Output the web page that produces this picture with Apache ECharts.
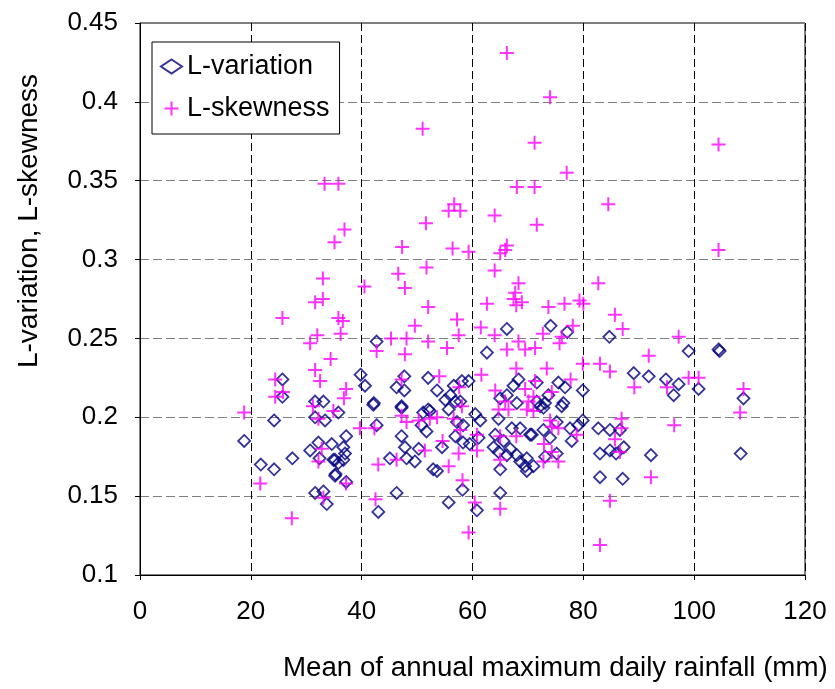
<!DOCTYPE html>
<html>
<head>
<meta charset="utf-8">
<script src="https://cdn.jsdelivr.net/npm/echarts/dist/echarts.min.js"></script>
<style>
  html, body { margin: 0; padding: 0; background: #ffffff; }
  #chart { width: 835px; height: 689px; }
</style>
</head>
<body>
<div id="chart"></div>
<script>
// Mean of annual maximum daily rainfall (mm) vs. L-moment ratios per station
const seriesNames = ['L-variation', 'L-skewness'];

const lVariationPoints = [
  [25.7,0.224],[25.7,0.213],[31.6,0.210],[33.1,0.210],
  [42.7,0.248],[39.8,0.227],[40.6,0.220],[47.7,0.226],[46.3,0.219],[47.7,0.217],[52.0,0.225],[42.2,0.209],[47.2,0.207],[52.0,0.205],
  [66.2,0.256],[62.6,0.241],[59.3,0.223],[58.1,0.223],[56.6,0.220],[53.6,0.217],[56.0,0.214],[55.1,0.211],[56.9,0.210],[57.8,0.210],
  [68.3,0.224],[67.4,0.220],[66.2,0.214],[65.0,0.212],[68.0,0.209],
  [74.1,0.258],[77.1,0.254],[84.7,0.251],[89.1,0.228],[71.6,0.222],[75.5,0.222],[76.7,0.219],[79.9,0.217],[73.7,0.214],[71.6,0.210],
  [76.4,0.209],[73.1,0.209],[72.2,0.207],
  [99.0,0.242],[104.4,0.243],[104.6,0.242],[91.8,0.226],[94.9,0.224],[97.2,0.221],[96.3,0.214],[100.8,0.218],[108.9,0.212],
  [18.8,0.185],[24.2,0.198],[21.8,0.170],[24.2,0.167],[27.5,0.174],[31.6,0.200],[33.4,0.198],[32.2,0.184],[30.7,0.179],[34.6,0.183],
  [32.4,0.174],[34.9,0.173],[35.2,0.163],[31.6,0.152],[33.1,0.153],[33.7,0.145],
  [42.1,0.208],[35.8,0.203],[42.7,0.195],[37.2,0.188],[36.7,0.181],[37.0,0.177],[35.2,0.173],[36.7,0.173],[35.8,0.171],[35.3,0.164],
  [37.2,0.159],[43.0,0.140],[46.3,0.152],[47.2,0.188],[47.8,0.181],[45.1,0.174],[48.1,0.174],[49.6,0.172],[50.3,0.180],[47.2,0.206],
  [51.1,0.203],[52.3,0.204],[50.8,0.195],[51.7,0.191],[52.9,0.167],
  [55.7,0.205],[60.5,0.202],[61.4,0.198],[57.2,0.197],[58.3,0.195],[56.9,0.188],[58.3,0.184],[59.5,0.183],[54.5,0.181],[61.1,0.187],
  [53.6,0.166],[58.2,0.154],[55.7,0.146],[60.8,0.141],[64.7,0.199],[67.1,0.193],[68.6,0.193],[70.4,0.189],[64.1,0.189],[65.6,0.185],
  [63.8,0.181],[64.7,0.178],[66.8,0.180],[68.0,0.176],[66.2,0.176],[69.8,0.174],[68.6,0.172],[69.5,0.169],[69.8,0.166],[65.0,0.167],
  [65.0,0.152],
  [72.8,0.206],[76.1,0.207],[75.2,0.197],[77.6,0.193],[79.1,0.195],[79.9,0.198],[70.7,0.189],[72.8,0.192],[74.0,0.187],[77.9,0.185],
  [75.2,0.177],[71.0,0.169],[73.1,0.175],[82.7,0.193],[84.8,0.192],[86.6,0.192],[83.0,0.177],[84.8,0.179],[85.9,0.177],[87.3,0.181],
  [83.0,0.162],[87.1,0.161],
  [92.2,0.176],[108.4,0.177]
];

const lSkewnessPoints = [
  [66.2,0.431],[74.0,0.403],[51.0,0.383],[104.4,0.373],[71.2,0.374],[77.0,0.355],[68.0,0.346],[71.2,0.346],[84.5,0.335],[64.0,0.328],
  [71.6,0.322],[66.2,0.309],[65.9,0.306],[65.0,0.304],[104.4,0.306],
  [33.3,0.348],[35.8,0.348],[36.9,0.319],[35.1,0.311],[51.6,0.323],[55.7,0.331],[56.7,0.335],[57.8,0.331],[47.3,0.308],[56.4,0.307],
  [59.3,0.305],
  [33.0,0.288],[31.6,0.273],[33.0,0.275],[25.7,0.263],[32.0,0.252],[30.7,0.247],[34.4,0.237],[31.6,0.230],[32.5,0.223],[24.4,0.224],
  [24.4,0.213],[25.8,0.216],[31.2,0.207],
  [51.7,0.295],[46.6,0.291],[47.8,0.282],[40.5,0.283],[52.0,0.270],[35.8,0.263],[36.6,0.261],[36.2,0.253],[49.6,0.258],[45.3,0.250],
  [48.1,0.250],[52.0,0.248],[42.7,0.242],[47.8,0.240],[47.2,0.224],[37.2,0.218],[36.8,0.212],
  [64.0,0.293],[68.3,0.285],[67.7,0.279],[67.4,0.275],[67.9,0.271],[68.9,0.273],[62.6,0.272],[57.2,0.262],[61.5,0.257],[57.5,0.252],
  [64.0,0.252],[68.3,0.248],[55.4,0.244],[66.2,0.243],[69.5,0.243],[67.9,0.231],[61.6,0.227],[54.0,0.226],[57.6,0.219],[64.1,0.217],
  [69.5,0.218],[65.9,0.210],[70.1,0.210],
  [82.7,0.285],[73.7,0.270],[76.6,0.272],[79.3,0.274],[80.0,0.272],[85.7,0.265],[87.1,0.256],[78.1,0.258],[72.7,0.253],[76.1,0.251],
  [75.7,0.247],[71.3,0.244],[73.4,0.231],[79.9,0.234],[83.0,0.234],[84.8,0.229],[77.7,0.224],[71.3,0.223],[74.3,0.216],[89.2,0.219],
  [71.0,0.213],
  [97.2,0.251],[91.8,0.239],[95.1,0.219],[99.0,0.225],[100.8,0.225],[108.9,0.218],
  [18.8,0.203],[32.2,0.199],[32.8,0.180],[32.2,0.172],[21.7,0.158],[33.1,0.149],[27.4,0.136],[34.9,0.204],
  [39.7,0.193],[42.3,0.193],[43.0,0.170],[37.2,0.158],[42.5,0.148],[46.3,0.173],[47.2,0.201],[48.1,0.197],[50.3,0.198],[52.3,0.199],
  [51.4,0.179],
  [53.6,0.200],[56.6,0.199],[58.1,0.207],[57.8,0.192],[60.8,0.189],[54.6,0.185],[57.5,0.177],[60.8,0.179],[55.7,0.169],[58.2,0.160],
  [60.4,0.146],[65.0,0.142],[59.3,0.127],[65.0,0.173],[65.0,0.188],[67.9,0.188],[64.7,0.205],[66.5,0.205],[69.8,0.205],
  [86.9,0.199],[86.9,0.193],[85.7,0.186],[86.6,0.178],[84.8,0.147],[83.0,0.119],[71.0,0.204],[74.0,0.198],[74.3,0.194],[75.5,0.193],
  [78.8,0.189],[72.9,0.183],[74.3,0.178],[72.8,0.172],[75.5,0.172],
  [96.4,0.195],[108.3,0.203],[92.2,0.162]
];

const xTitle = 'Mean of annual maximum daily rainfall (mm)';
const yTitle = 'L-variation, L-skewness';

const FONT = '"Liberation Sans", Arial, sans-serif';
const CROSS = 'path://M0,7L14,7M7,0L7,14';

const chart = echarts.init(document.getElementById('chart'), null, { renderer: 'canvas' });

chart.setOption({
  animation: false,
  backgroundColor: '#ffffff',
  grid: {
    left: 140, right: 30, top: 23, bottom: 114,
    show: true, borderColor: '#000000', borderWidth: 1, backgroundColor: 'transparent'
  },
  xAxis: {
    type: 'value', min: 0, max: 120, interval: 20,
    axisLine: { show: true, lineStyle: { color: '#000000', width: 1 } },
    axisTick: { show: true, inside: false, length: 5, lineStyle: { color: '#000000' } },
    axisLabel: { color: '#000000', fontFamily: FONT, fontSize: 26, margin: 24 },
    splitLine: { show: true, lineStyle: { color: '#000000', type: [8, 4], width: 1 } }
  },
  yAxis: {
    type: 'value', min: 0.1, max: 0.45, interval: 0.05,
    axisLine: { show: true, lineStyle: { color: '#000000', width: 1 } },
    axisTick: { show: true, inside: false, length: 5, lineStyle: { color: '#000000' } },
    axisLabel: { color: '#000000', fontFamily: FONT, fontSize: 26, margin: 22,
      formatter: v => String(parseFloat(v.toFixed(2))) },
    splitLine: { show: true, lineStyle: { color: '#7f7f7f', type: [9, 4], width: 1 } }
  },
  legend: {
    left: 152, top: 42, orient: 'vertical',
    backgroundColor: '#ffffff', borderColor: '#000000', borderWidth: 1,
    padding: [11, 10, 12, 8], itemGap: 15, itemWidth: 21, itemHeight: 14,
    textStyle: { color: '#000000', fontFamily: FONT, fontSize: 27, lineHeight: 27 },
    data: seriesNames
  },
  graphic: [
    {
      type: 'text', left: 283, top: 654,
      style: { text: xTitle, fill: '#000000', font: '27.7px ' + FONT }
    },
    {
      type: 'text', x: 29, y: 221, rotation: Math.PI / 2,
      style: { text: yTitle, fill: '#000000', font: '28px ' + FONT, align: 'center', verticalAlign: 'middle' }
    }
  ],
  series: [
    {
      name: seriesNames[0], type: 'scatter', data: lVariationPoints,
      symbol: 'diamond', symbolSize: 12,
      itemStyle: { color: 'rgba(255,255,255,0)', borderColor: '#000080', borderWidth: 1.8 },
      emphasis: { disabled: true }, z: 2
    },
    {
      name: seriesNames[1], type: 'scatter', data: lSkewnessPoints,
      symbol: CROSS, symbolSize: 14,
      itemStyle: { color: 'rgba(255,255,255,0)', borderColor: '#ff00ff', borderWidth: 2 },
      emphasis: { disabled: true }, z: 3
    }
  ]
});
</script>
</body>
</html>
